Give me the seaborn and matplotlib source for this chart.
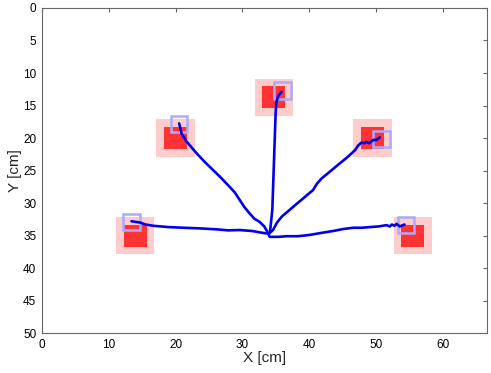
import numpy as np
import pandas as pd
import matplotlib
matplotlib.use("Agg")
import matplotlib.pyplot as plt
import seaborn as sns
from matplotlib.patches import Rectangle

# target centres [cm]
target_x = [34.7, 20.0, 49.5, 14.0, 55.5]
target_y = [13.7, 20.0, 20.0, 35.0, 35.0]

# final cursor positions [cm]
cursor_x = [36.0, 20.5, 50.8, 13.4, 54.5]
cursor_y = [12.7, 17.8, 20.1, 32.9, 33.4]

# hand trajectories, centre -> target
traj_up_x = [34.1, 34.2, 34.3, 34.5, 34.6, 34.7, 34.8, 34.9, 35.0, 35.1, 35.4, 35.9]
traj_up_y = [34.6, 34.0, 33.0, 31.0, 28.0, 25.0, 22.0, 19.0, 16.0, 14.5, 13.5, 12.9]

traj_ul_x = [33.9, 33.3, 32.6, 31.8, 31.1, 30.3, 29.6, 28.9, 28.1, 26.8, 25.6, 24.4, 23.2, 21.7, 20.9, 20.55]
traj_ul_y = [34.7, 33.6, 32.9, 32.4, 31.6, 30.6, 29.5, 28.4, 27.5, 26.1, 24.9, 23.7, 22.4, 20.6, 19.3, 17.75]

traj_ur_x = [34.0, 34.6, 35.2, 35.9, 36.7, 37.6, 39.1, 40.6, 41.2, 41.9, 43.2, 44.6, 45.8, 46.9, 47.4, 47.85, 48.3, 48.6, 49.0, 49.6, 50.1, 50.6]
traj_ur_y = [34.7, 34.15, 33.0, 32.1, 31.4, 30.6, 29.3, 28.0, 27.0, 26.2, 25.1, 23.9, 22.9, 21.85, 21.1, 20.7, 20.8, 20.6, 20.8, 20.3, 20.3, 19.9]

traj_ll_x = [33.9, 33.1, 31.5, 29.6, 27.9, 26.2, 23.7, 21.2, 19.0, 16.7, 15.5, 14.7, 13.4]
traj_ll_y = [34.7, 34.6, 34.3, 34.15, 34.2, 34.05, 33.9, 33.8, 33.7, 33.5, 33.3, 33.0, 32.8]

traj_lr_x = [33.9, 34.1, 35.4, 36.6, 38.4, 40.1, 41.8, 43.6, 45.1, 46.6, 47.9, 49.1, 50.4, 51.6, 52.1, 52.4, 52.8, 53.1, 53.6, 54.3]
traj_lr_y = [34.7, 35.2, 35.2, 35.1, 35.1, 34.9, 34.6, 34.3, 34.0, 33.8, 33.8, 33.7, 33.6, 33.4, 33.6, 33.3, 33.5, 33.2, 33.6, 33.3]

x_ticks = [0, 10, 20, 30, 40, 50, 60]
y_ticks = [0, 5, 10, 15, 20, 25, 30, 35, 40, 45, 50]

sns.set_style("white")
plt.rcParams['font.family'] = ['Liberation Sans', 'DejaVu Sans']

fig = plt.figure(figsize=(4.91, 3.73), dpi=100)
ax = fig.add_axes([0.0855, 0.107, 0.9070, 0.8716])

# targets: pink tolerance zone + red square
halo, core, cur = 5.7, 3.4, 2.5
for tx, ty in zip(target_x, target_y):
    ax.add_patch(Rectangle((tx - halo / 2, ty - halo / 2), halo, halo,
                           facecolor='#ffcccc', edgecolor='none', zorder=1))
    ax.add_patch(Rectangle((tx - core / 2, ty - core / 2), core, core,
                           facecolor='#ff3333', edgecolor='none', zorder=2))

for cx, cy in zip(cursor_x, cursor_y):
    ax.add_patch(Rectangle((cx - cur / 2, cy - cur / 2), cur, cur,
                           facecolor='none', edgecolor='#aaaaff', lw=1.8, zorder=3))

trajs = [(traj_up_x, traj_up_y), (traj_ul_x, traj_ul_y), (traj_ur_x, traj_ur_y),
         (traj_ll_x, traj_ll_y), (traj_lr_x, traj_lr_y)]
rows = []
for i, (xs, ys) in enumerate(trajs):
    for j, (xv, yv) in enumerate(zip(xs, ys)):
        rows.append({'trial': i, 'step': j, 'x': xv, 'y': yv})
df = pd.DataFrame(rows)

sns.lineplot(data=df, x='x', y='y', units='trial', estimator=None, sort=False,
             color='#0000ee', lw=1.9, ax=ax, zorder=4)

ax.set_xlim(0, 66.7)
ax.set_ylim(50, 0)
ax.set_xticks(x_ticks)
ax.set_yticks(y_ticks)
ax.set_xlabel('X [cm]', fontsize=11, labelpad=0)
ax.set_ylabel('Y [cm]', fontsize=11, labelpad=1)
ax.tick_params(direction='in', length=3, width=0.8, color='#666666',
               labelsize=8.5, labelcolor='black', top=True, right=True, pad=4)
for s in ax.spines.values():
    s.set_color('#666666')
    s.set_linewidth(0.8)

fig.savefig('out.png', dpi=100)
